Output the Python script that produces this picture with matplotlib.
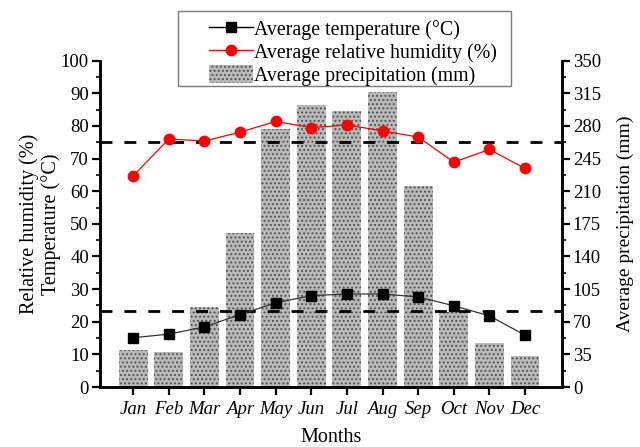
"""Monthly climate: temperature, humidity and precipitation."""

import matplotlib
matplotlib.use("Agg")
import numpy as np
from matplotlib import pyplot as plt
from matplotlib.lines import Line2D
from matplotlib.patches import Patch, Rectangle
from matplotlib.ticker import MultipleLocator

months = ["Jan", "Feb", "Mar", "Apr", "May", "Jun",
          "Jul", "Aug", "Sep", "Oct", "Nov", "Dec"]
temperature = [15.1, 16.2, 18.4, 22.2, 25.8, 28.0, 28.5, 28.5, 27.6, 24.9, 21.8, 15.9]
humidity = [64.7, 76.0, 75.4, 78.1, 81.4, 79.5, 80.3, 78.5, 76.6, 68.9, 72.8, 67.0]
precipitation = [40.2, 37.6, 85.6, 165.3, 277, 302.4, 296.3, 316.4, 215.5, 80.5, 47.7, 33]
ref_humidity = 75.2
ref_temperature = 23.4

plt.rcParams["font.family"] = ["Liberation Serif", "DejaVu Serif"]
plt.rcParams["hatch.linewidth"] = 0.9

W, H = 640, 447
fig = plt.figure(figsize=(W / 100, H / 100), dpi=100)
ax = fig.add_axes([100 / W, 1 - 387 / H, 461.7 / W, 326.3 / H])
ax2 = ax.twinx()
x = np.arange(1, 13)

bar_face, bar_dots = "#b9b9b9", "#505050"
ax2.bar(x, precipitation, width=0.81, color=bar_face, edgecolor=bar_dots,
        hatch="....", lw=0)
ax2.set_ylim(0, 350)
ax2.yaxis.set_major_locator(MultipleLocator(35))
ax2.yaxis.set_minor_locator(MultipleLocator(17.5))
ax2.set_ylabel("Average precipitation (mm)", fontsize=14, labelpad=11)

ax.set_zorder(ax2.get_zorder() + 1)
ax.patch.set_visible(False)
ax.axhline(ref_humidity, color="black", ls=(0, (4.3, 4.3)), lw=2)
ax.axhline(ref_temperature, color="black", ls=(0, (4.3, 4.3)), lw=2)
ax.plot(x, temperature, color="#333333", lw=0.9, marker="s", ms=7,
        mfc="black", mec="black")
ax.plot(x, humidity, color="red", lw=0.9, marker="o", ms=7.5,
        mfc="red", mec="red")

ax.set_xlim(0.07, 13.03)
ax.set_ylim(0, 100)
ax.yaxis.set_major_locator(MultipleLocator(10))
ax.yaxis.set_minor_locator(MultipleLocator(5))
ax.set_xticks(x)
ax.set_xticklabels(months, style="italic", fontsize=15)
ax.set_xlabel("Months", fontsize=14.5, labelpad=7)
ax.set_ylabel("Relative humidity (%)\nTemperature (°C)", fontsize=14.5,
              linespacing=1.1, labelpad=0)

for a in (ax, ax2):
    a.spines["top"].set_visible(False)
    for s in ("left", "right", "bottom"):
        a.spines[s].set_linewidth(1.8)
    a.tick_params(which="major", direction="out", length=6, width=1.6,
                  labelsize=13.5, pad=2)
    a.tick_params(which="minor", direction="out", length=3, width=1.2)
ax.tick_params(axis="x", pad=4)

# legend frame is wider than its content in the original
fig.patches.append(Rectangle((178 / W, 1 - 86 / H), 333 / W, 75 / H,
                             transform=fig.transFigure, facecolor="white",
                             edgecolor="#7a7a7a", lw=1, zorder=9))
handles = [
    Line2D([], [], color="black", lw=1, marker="s", ms=7),
    Line2D([], [], color="red", lw=1, marker="o", ms=7.5),
    Patch(facecolor=bar_face, edgecolor=bar_dots, hatch="....", lw=0),
]
labels = ["Average temperature (°C)", "Average relative humidity (%)",
          "Average precipitation (mm)"]
leg = fig.legend(handles, labels, loc="upper left",
                 bbox_to_anchor=(209 / W, 1 - 19 / H), fontsize=14.3,
                 frameon=False, handlelength=2.2, handleheight=1.05,
                 handletextpad=0.05, borderpad=0, labelspacing=0.1,
                 borderaxespad=0)
leg.set_zorder(10)

fig.savefig("out.png", dpi=100)
